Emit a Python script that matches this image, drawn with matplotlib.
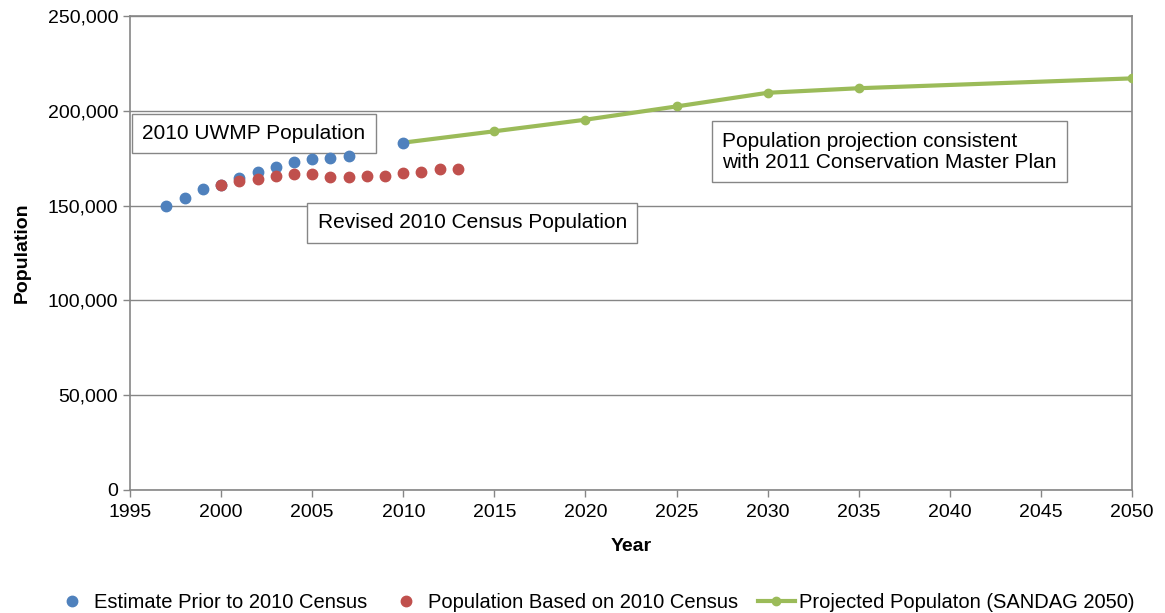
import matplotlib.pyplot as plt
from matplotlib.ticker import FuncFormatter

plt.rcParams['font.family'] = ['Liberation Sans', 'DejaVu Sans']

# Estimate prior to 2010 census
est_years = [1997, 1998, 1999, 2000, 2001, 2002, 2003, 2004, 2005, 2006, 2007, 2010]
est_pop = [149800, 154200, 158600, 161000, 164400, 167500, 170500, 173200, 174600, 174900, 176300, 183200]

# Population based on 2010 census
census_years = list(range(2000, 2014))
census_pop = [160900, 163000, 164000, 165600, 166700, 166700, 165200,
              165200, 165600, 165600, 167000, 167900, 169100, 169100]

# SANDAG 2050 projection
proj_years = [2010, 2015, 2020, 2025, 2030, 2035, 2050]
proj_pop = [183200, 189200, 195300, 202300, 209500, 211900, 217100]

blue = '#4F81BD'
red = '#C0504D'
green = '#9BBB59'
gray = '#868686'

fig = plt.figure(figsize=(11.65, 6.13), dpi=100)
ax = fig.add_axes([130 / 1165, 123 / 613, 1002 / 1165, 474 / 613])

ax.plot(proj_years, proj_pop, color=green, lw=3, marker='o', ms=6,
        label='Projected Populaton (SANDAG 2050)', zorder=3)
ax.plot(census_years, census_pop, ls='none', marker='o', ms=7.5, color=red,
        label='Population Based on 2010 Census', zorder=4)
ax.plot(est_years, est_pop, ls='none', marker='o', ms=7.5, color=blue,
        label='Estimate Prior to 2010 Census', zorder=3.5)

ax.set_xlim(1995, 2050)
ax.set_ylim(0, 250000)
ax.set_xticks(range(1995, 2051, 5))
ax.set_yticks(range(0, 250001, 50000))
ax.yaxis.set_major_formatter(FuncFormatter(lambda v, p: f'{int(v):,}'))
ax.grid(axis='y', color=gray, lw=1)
ax.set_axisbelow(True)
for s in ax.spines.values():
    s.set_color(gray)
    s.set_linewidth(1.2)
ax.tick_params(colors=gray, labelcolor='black', labelsize=14, length=5, width=1)
ax.tick_params(axis='x', pad=5)

ax.set_xlabel('Year', fontsize=14, fontweight='bold', labelpad=12)
ax.set_ylabel('Population', fontsize=14, fontweight='bold', labelpad=12)

box = dict(boxstyle='square,pad=0.5', fc='white', ec=gray, lw=1)
ax.text(1995.66, 188000, '2010 UWMP Population', fontsize=15, bbox=box, va='center')
ax.text(2005.3, 141000, 'Revised 2010 Census Population', fontsize=15, bbox=box, va='center')
ax.text(2027.5, 178300, 'Population projection consistent\nwith 2011 Conservation Master Plan',
        fontsize=15, bbox=box, va='center', linespacing=1.15)

h, l = ax.get_legend_handles_labels()
fig.legend([h[2], h[1], h[0]], [l[2], l[1], l[0]], loc='lower center',
           bbox_to_anchor=(0.51, -0.028), ncol=3, frameon=False, fontsize=14.5,
           handlelength=1.8, handletextpad=0.2, columnspacing=1.0)

fig.savefig('out.png', dpi=100)
